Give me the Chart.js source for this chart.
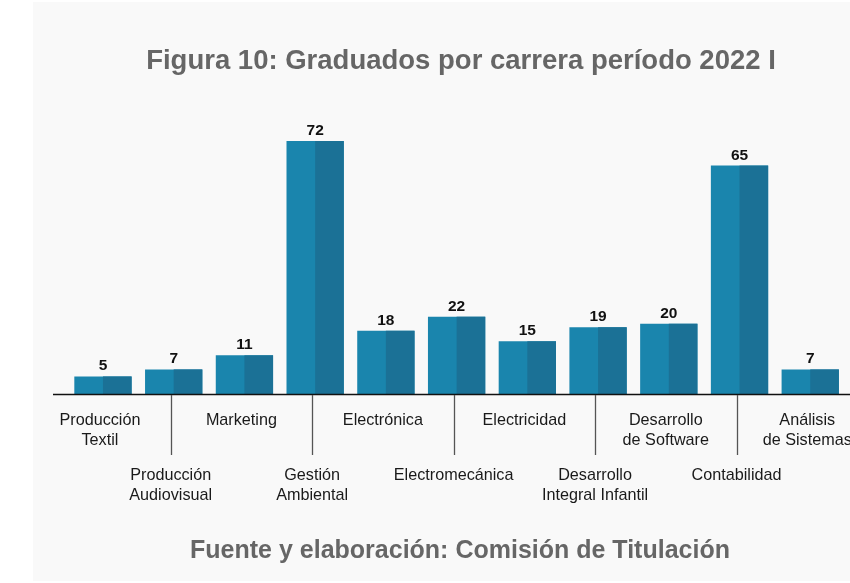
<!DOCTYPE html>
<html>
<head>
<meta charset="utf-8">
<script src="https://cdn.jsdelivr.net/npm/chart.js@4.4.0/dist/chart.umd.min.js"></script>
<style>
  html, body { margin: 0; padding: 0; background: #fff; overflow: hidden; }
  #wrap { width: 850px; height: 583px; position: relative; }
</style>
</head>
<body>
<div id="wrap"><canvas id="grad"></canvas></div>
<script>
// Data
const carreras = [
  ['Producción', 'Textil'],
  ['Producción', 'Audiovisual'],
  ['Marketing'],
  ['Gestión', 'Ambiental'],
  ['Electrónica'],
  ['Electromecánica'],
  ['Electricidad'],
  ['Desarrollo', 'Integral Infantil'],
  ['Desarrollo', 'de Software'],
  ['Contabilidad'],
  ['Análisis', 'de Sistemas']
];
const graduados = [5, 7, 11, 72, 18, 22, 15, 19, 20, 65, 7];
const titulo = 'Figura 10: Graduados por carrera período 2022 I';
const fuente = 'Fuente y elaboración: Comisión de Titulación';

const FONT = '"Liberation Sans", Arial, sans-serif';

// panel, two-tone bars, value labels, staggered category labels
const decor = {
  id: 'decor',
  beforeDraw(chart) {
    const c = chart.ctx;
    c.save();
    c.fillStyle = '#ffffff';
    c.fillRect(0, 0, chart.width, chart.height);
    c.fillStyle = '#f9f9f9';
    c.fillRect(33, 2, chart.width - 33, 579);
    c.restore();
  },
  afterDatasetsDraw(chart) {
    const c = chart.ctx;
    const meta = chart.getDatasetMeta(0);
    const area = chart.chartArea;
    c.save();
    // darker right half of every bar
    c.fillStyle = '#1b7196';
    meta.data.forEach(bar => {
      c.fillRect(bar.x, bar.y, bar.width / 2, bar.base - bar.y);
    });
    // axis line
    c.strokeStyle = '#111';
    c.lineWidth = 1.5;
    c.beginPath();
    c.moveTo(53, area.bottom + 0.5);
    c.lineTo(chart.width, area.bottom + 0.5);
    c.stroke();
    // values over bars
    c.fillStyle = '#111';
    c.font = 'bold 15.5px ' + FONT;
    c.textAlign = 'center';
    c.textBaseline = 'alphabetic';
    meta.data.forEach((bar, i) => {
      c.fillText(String(graduados[i]), bar.x, bar.y - 6);
    });
    // category labels, every other one dropped with a tick line
    const xs = chart.scales.x;
    c.font = '16.2px ' + FONT;
    c.fillStyle = '#1a1a1a';
    carreras.forEach((lab, i) => {
      const x = xs.getPixelForValue(i) - 3;
      const low = i % 2 === 1;
      if (low) {
        c.strokeStyle = '#555';
        c.lineWidth = 1.3;
        c.beginPath();
        c.moveTo(Math.round(x) + 0.5, area.bottom + 1);
        c.lineTo(Math.round(x) + 0.5, area.bottom + 61);
        c.stroke();
      }
      const y0 = low ? 480 : 425;
      lab.forEach((line, k) => c.fillText(line, x, y0 + k * 19.5));
    });
    // title and source
    c.fillStyle = '#666';
    c.font = 'bold 27.5px ' + FONT;
    c.fillText(titulo, 461, 69);
    c.font = 'bold 25px ' + FONT;
    c.fillText(fuente, 460, 558);
    c.restore();
  }
};

const ctx = document.getElementById('grad').getContext('2d');
const chart = new Chart(ctx, {
  type: 'bar',
  data: {
    labels: carreras.map(l => l.join(' ')),
    datasets: [{
      data: graduados,
      backgroundColor: '#1a85ad',
      borderWidth: 0,
      barPercentage: 0.81,
      categoryPercentage: 1.0
    }]
  },
  options: {
    responsive: true,
    maintainAspectRatio: false,
    animation: false,
    layout: {
      padding: { left: 67.6, right: 4.4, top: 112.9, bottom: 189 }
    },
    plugins: {
      legend: { display: false },
      tooltip: { enabled: false },
      title: { display: false }
    },
    scales: {
      x: { display: false },
      y: { display: false, min: 0, max: 80 }
    }
  },
  plugins: [decor]
});
</script>
</body>
</html>
